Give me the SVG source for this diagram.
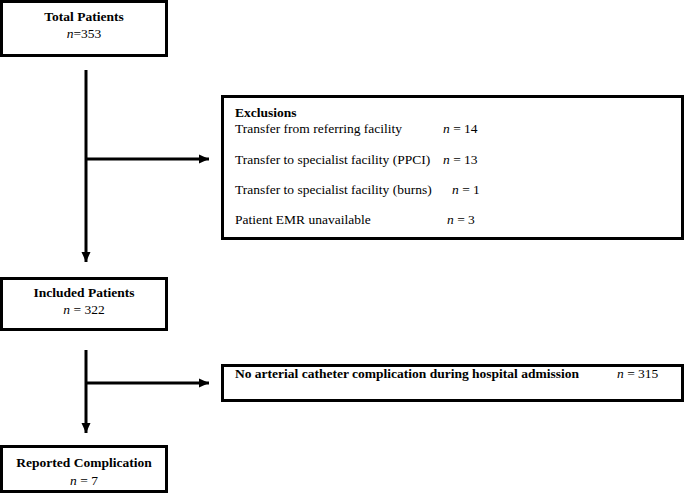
<svg xmlns="http://www.w3.org/2000/svg" width="685" height="493" viewBox="0 0 685 493">
<style>
.box{fill:#fff;stroke:#000;stroke-width:3}
.t{font-family:"Liberation Serif","Times New Roman",serif;font-size:13.5px;fill:#000}
.b{font-weight:bold}
.c{text-anchor:middle}
.conn{stroke:#000;stroke-width:3;fill:none}
</style>
<defs>
<marker id="ah" markerUnits="userSpaceOnUse" markerWidth="12" markerHeight="12" viewBox="0 0 12 12" refX="11" refY="6" orient="auto">
<path d="M1,1.5 L11,6 L1,10.5 Z" fill="#000"/>
</marker>
</defs>
<rect x="0" y="0" width="685" height="493" fill="#fff"/>
<g id="connectors">
<line class="conn" x1="86" y1="70" x2="86" y2="262" marker-end="url(#ah)"/>
<line class="conn" x1="86" y1="159" x2="209" y2="159" marker-end="url(#ah)"/>
<line class="conn" x1="86" y1="350" x2="86" y2="433" marker-end="url(#ah)"/>
<line class="conn" x1="86" y1="383" x2="209" y2="383" marker-end="url(#ah)"/>
</g>
<g id="total">
<rect class="box" x="1.5" y="1.5" width="165" height="54"/>
<text class="t b c" x="84" y="21">Total Patients</text>
<text class="t c" x="84" y="38"><tspan font-style="italic">n</tspan>=353</text>
</g>
<g id="exclusions">
<rect class="box" x="222.5" y="96.5" width="460" height="142"/>
<text class="t b" x="235" y="117">Exclusions</text>
<text class="t" x="235" y="133">Transfer from referring facility</text>
<text class="t" x="443" y="133"><tspan font-style="italic">n</tspan> = 14</text>
<text class="t" x="235" y="164">Transfer to specialist facility (PPCI)</text>
<text class="t" x="443" y="164"><tspan font-style="italic">n</tspan> = 13</text>
<text class="t" x="235" y="194">Transfer to specialist facility (burns)</text>
<text class="t" x="452" y="194"><tspan font-style="italic">n</tspan> = 1</text>
<text class="t" x="235" y="224">Patient EMR unavailable</text>
<text class="t" x="447" y="224"><tspan font-style="italic">n</tspan> = 3</text>
</g>
<g id="included">
<rect class="box" x="1.5" y="278.5" width="165" height="51"/>
<text class="t b c" x="84" y="297">Included Patients</text>
<text class="t c" x="84" y="314"><tspan font-style="italic">n</tspan> = 322</text>
</g>
<g id="no-complication">
<rect class="box" x="222.5" y="365.5" width="460" height="35"/>
<text class="t b" x="235" y="378">No arterial catheter complication during hospital admission</text>
<text class="t" x="617" y="378"><tspan font-style="italic">n</tspan> = 315</text>
</g>
<g id="reported">
<rect class="box" x="1.5" y="446.5" width="165" height="45"/>
<text class="t b c" x="84" y="467">Reported Complication</text>
<text class="t c" x="84" y="485"><tspan font-style="italic">n</tspan> = 7</text>
</g>
</svg>
